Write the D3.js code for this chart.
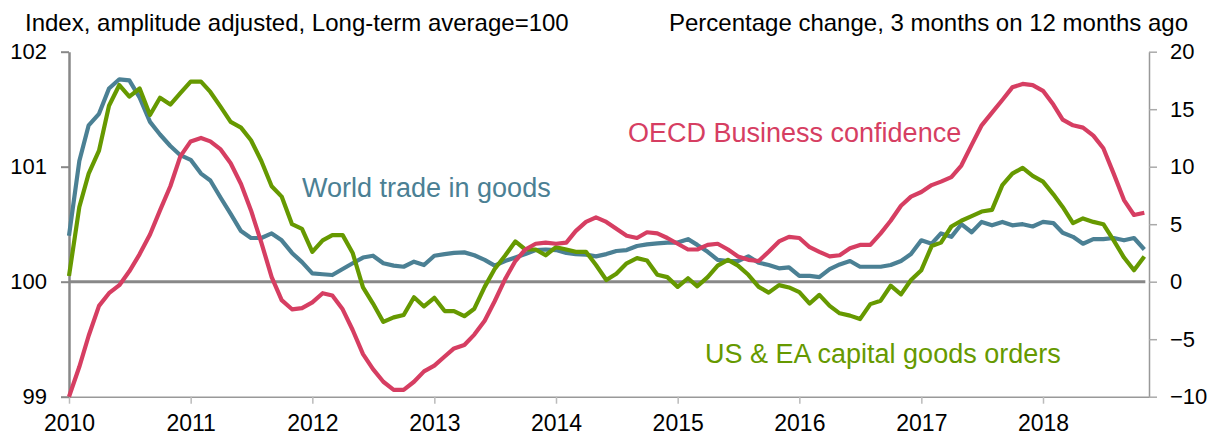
<!DOCTYPE html>
<html>
<head>
<meta charset="utf-8">
<script src="https://cdn.jsdelivr.net/npm/d3@7"></script>
<style>
  html, body { margin: 0; padding: 0; background: #fff; }
  svg { display: block; font-family: "Liberation Sans", Arial, sans-serif; }
</style>
</head>
<body>
<div id="chart"></div>
<script>
// monthly series, Jan 2010 .. Nov 2018
const startMonth = new Date(2010, 0, 1);

// OECD business confidence, left axis (index)
const businessConfidence = [
  99.00, 99.26, 99.53, 99.79, 99.90, 99.97, 100.09, 100.24, 100.41, 100.62, 100.83, 101.09,
  101.22, 101.25, 101.22, 101.15, 101.03, 100.85, 100.62, 100.34, 100.04, 99.84, 99.76, 99.77,
  99.82, 99.90, 99.88, 99.76, 99.58, 99.37, 99.24, 99.13, 99.06, 99.06, 99.13, 99.22,
  99.27, 99.35, 99.42, 99.45, 99.54, 99.66, 99.83, 100.02, 100.18, 100.28, 100.33, 100.34,
  100.33, 100.34, 100.44, 100.52, 100.56, 100.52, 100.46, 100.40, 100.38, 100.43, 100.42, 100.38,
  100.33, 100.28, 100.28, 100.32, 100.33, 100.28, 100.22, 100.19, 100.18, 100.26, 100.35, 100.39,
  100.38, 100.30, 100.26, 100.22, 100.23, 100.29, 100.32, 100.32, 100.42, 100.53, 100.66, 100.74,
  100.78, 100.84, 100.87, 100.91, 101.01, 101.19, 101.36, 101.47, 101.58, 101.69, 101.72, 101.71,
  101.66, 101.54, 101.41, 101.36, 101.34, 101.27, 101.16, 100.94, 100.71, 100.58, 100.60
];

// world trade in goods, right axis (% change)
const worldTrade = [
  4.0, 10.5, 13.6, 14.6, 16.8, 17.6, 17.5, 16.0, 13.9, 12.8, 11.8, 11.0,
  10.6, 9.4, 8.8, 7.3, 5.9, 4.4, 3.8, 3.8, 4.2, 3.6, 2.5, 1.7,
  0.72, 0.65, 0.58, 1.1, 1.6, 2.1, 2.26, 1.6, 1.4, 1.3, 1.74, 1.45,
  2.26, 2.4, 2.5, 2.55, 2.3, 1.9, 1.4, 1.8, 2.1, 2.4, 2.75, 2.8,
  2.75, 2.5, 2.4, 2.35, 2.2, 2.4, 2.67, 2.75, 3.1, 3.25, 3.33, 3.4,
  3.4, 3.7, 3.2, 2.6, 1.9, 1.8, 1.8, 2.2, 1.65, 1.45, 1.16, 1.25,
  0.5, 0.5, 0.4, 1.1, 1.5, 1.8, 1.3, 1.3, 1.3, 1.45, 1.8, 2.4,
  3.6, 3.3, 4.2, 3.9, 5.0, 4.3, 5.2, 4.9, 5.2, 4.9, 5.0, 4.8,
  5.2, 5.1, 4.25, 3.9, 3.3, 3.7, 3.7, 3.8, 3.6, 3.8, 2.8
];

// US & EA capital goods orders, right axis (% change)
const capitalGoods = [
  0.5, 6.5, 9.4, 11.4, 15.3, 17.1, 16.1, 16.8, 14.5, 16.0, 15.4, 16.4,
  17.4, 17.4, 16.5, 15.2, 13.9, 13.4, 12.3, 10.5, 8.3, 7.4, 5.0, 4.6,
  2.6, 3.6, 4.05, 4.05, 2.5, -0.5, -1.9, -3.5, -3.1, -2.9, -1.35, -2.15,
  -1.4, -2.55, -2.55, -3.0, -2.35, -0.45, 1.1, 2.25, 3.5, 2.8, 2.8, 2.3,
  3.0, 2.8, 2.6, 2.6, 1.45, 0.15, 0.7, 1.6, 2.05, 1.85, 0.6, 0.4,
  -0.45, 0.3, -0.4, 0.4, 1.4, 1.9, 1.4, 0.6, -0.45, -0.95, -0.3, -0.5,
  -0.9, -1.9, -1.15, -2.1, -2.75, -2.95, -3.25, -1.95, -1.65, -0.35, -1.1, 0.15,
  1.0, 3.1, 3.4, 4.8, 5.3, 5.7, 6.1, 6.25, 8.4, 9.4, 9.9, 9.2,
  8.7, 7.6, 6.5, 5.1, 5.5, 5.2, 5.0, 3.6, 2.1, 1.0, 2.2
];

const leftTicks = [99, 100, 101, 102];
const rightTicks = [-10, -5, 0, 5, 10, 15, 20];
const yearTicks = [2010, 2011, 2012, 2013, 2014, 2015, 2016, 2017, 2018];

const leftTitle = 'Index, amplitude adjusted, Long-term average=100';
const rightTitle = 'Percentage change, 3 months on 12 months ago';

const seriesList = [
  { name: 'World trade in goods', values: worldTrade, axis: 'right', color: '#4b8094' },
  { name: 'US & EA capital goods orders', values: capitalGoods, axis: 'right', color: '#669900' },
  { name: 'OECD Business confidence', values: businessConfidence, axis: 'left', color: '#d63e62' }
];

const labels = [
  { text: 'World trade in goods', x: 302, y: 197, color: '#4b8094' },
  { text: 'OECD Business confidence', x: 628, y: 142, color: '#d63e62' },
  { text: 'US & EA capital goods orders', x: 705, y: 363, color: '#669900' }
];

const width = 1208;
const height = 436;
const plot = { left: 69, right: 1149, top: 51.7, bottom: 396.7 };

const svg = d3.select('#chart').append('svg')
  .attr('width', width)
  .attr('height', height);

const x = d3.scaleTime()
  .domain([startMonth, new Date(2018, 10, 15)])
  .range([plot.left, plot.right]);

const yLeft = d3.scaleLinear().domain([99, 102]).range([plot.bottom, plot.top]);
const yRight = d3.scaleLinear().domain([-10, 20]).range([plot.bottom, plot.top]);

const monthDate = i => d3.timeMonth.offset(startMonth, i);

// axes
const xAxis = svg.append('g')
  .attr('transform', `translate(0,${plot.bottom})`)
  .call(d3.axisBottom(x)
    .tickValues(yearTicks.map(yr => new Date(yr, 0, 1)))
    .tickFormat(d3.timeFormat('%Y'))
    .tickSize(7)
    .tickSizeOuter(0)
    .tickPadding(11));

xAxis.select('.domain').attr('stroke', '#999').attr('stroke-width', 1.5);
xAxis.selectAll('.tick line').attr('stroke', '#bbb').attr('stroke-width', 1.5);
xAxis.selectAll('.tick text')
  .attr('font-size', 23)
  .attr('fill', '#000');

const leftAxis = svg.append('g')
  .attr('transform', `translate(${plot.left},0)`)
  .call(d3.axisLeft(yLeft)
    .tickValues(leftTicks)
    .tickFormat(d3.format('d'))
    .tickSize(8)
    .tickSizeOuter(0)
    .tickPadding(14));

leftAxis.select('.domain').attr('stroke', '#888').attr('stroke-width', 2.5);
leftAxis.selectAll('.tick line').attr('stroke', '#888').attr('stroke-width', 2);
leftAxis.selectAll('.tick text')
  .attr('font-size', 22)
  .attr('fill', '#000');

const rightAxis = svg.append('g')
  .attr('transform', `translate(${plot.right},0)`)
  .call(d3.axisRight(yRight)
    .tickValues(rightTicks)
    .tickFormat(d3.format('d'))
    .tickSize(8)
    .tickSizeOuter(0)
    .tickPadding(13));

rightAxis.select('.domain').attr('stroke', '#999').attr('stroke-width', 1.5);
rightAxis.selectAll('.tick line').attr('stroke', '#aaa').attr('stroke-width', 1.5);
rightAxis.selectAll('.tick text')
  .attr('font-size', 22)
  .attr('fill', '#000');

// zero line
svg.append('line')
  .attr('x1', plot.left)
  .attr('x2', x(monthDate(106)) + 1)
  .attr('y1', yRight(0))
  .attr('y2', yRight(0))
  .attr('stroke', '#888')
  .attr('stroke-width', 3);

// series
seriesList.forEach(s => {
  const yScale = s.axis === 'left' ? yLeft : yRight;
  const line = d3.line()
    .x((d, i) => x(monthDate(i)))
    .y(d => yScale(d));

  svg.append('path')
    .datum(s.values)
    .attr('fill', 'none')
    .attr('stroke', s.color)
    .attr('stroke-width', 4.2)
    .attr('stroke-linejoin', 'round')
    .attr('d', line);
});

// titles
svg.append('text')
  .attr('x', 25)
  .attr('y', 31)
  .attr('font-size', 24)
  .attr('fill', '#000')
  .text(leftTitle);

svg.append('text')
  .attr('x', 1188)
  .attr('y', 31)
  .attr('text-anchor', 'end')
  .attr('font-size', 24)
  .attr('fill', '#000')
  .text(rightTitle);

// series labels
svg.selectAll('.series-label')
  .data(labels)
  .enter().append('text')
  .attr('class', 'series-label')
  .attr('x', d => d.x)
  .attr('y', d => d.y)
  .attr('font-size', 27)
  .attr('fill', d => d.color)
  .text(d => d.text);
</script>
</body>
</html>
